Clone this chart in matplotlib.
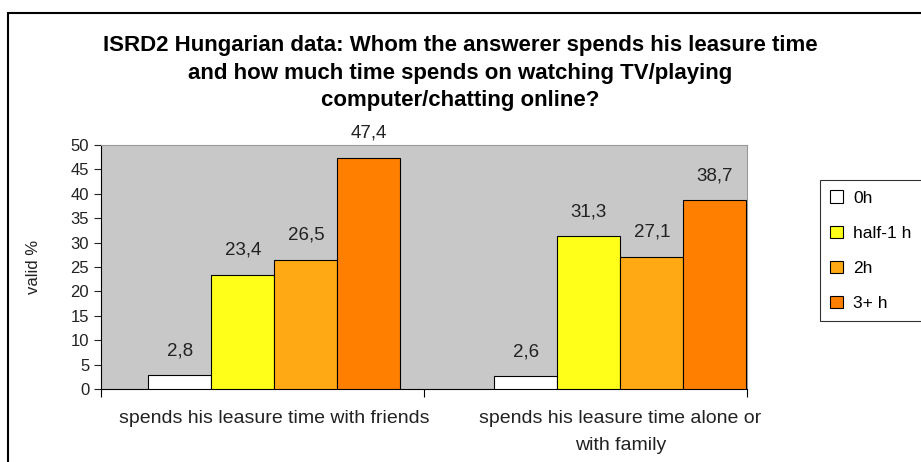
import numpy as np
import matplotlib
matplotlib.use("Agg")
import matplotlib.pyplot as plt
from matplotlib.patches import Rectangle

plt.rcParams['font.family'] = ['Liberation Sans', 'DejaVu Sans']

### data
groups = ["spends his leasure time with friends",
          "spends his leasure time alone or\nwith family"]
series = ["0h", "half-1 h", "2h", "3+ h"]
values = [[2.8, 2.6],
          [23.4, 31.3],
          [26.5, 27.1],
          [47.4, 38.7]]
labels = [["2,8", "2,6"],
          ["23,4", "31,3"],
          ["26,5", "27,1"],
          ["47,4", "38,7"]]
colors = ["#ffffff", "#ffff1a", "#ffaa14", "#ff8000"]

### figure
fig = plt.figure(figsize=(9.21, 4.62), dpi=100)
ax = fig.add_axes([101/921, 1 - 389/462, 646/921, 244/462])
ax.set_facecolor("#c8c8c8")

centers = [0.537, 1.608]
w = 0.195
for i, s in enumerate(series):
    xs = [c + (i - 1.5) * w for c in centers]
    ax.bar(xs, values[i], width=w, color=colors[i], edgecolor="black",
           linewidth=0.8, label=s, zorder=3)
    for x, v, t in zip(xs, values[i], labels[i]):
        ax.text(x, v + 4.1, t, ha="center", va="baseline", fontsize=13.5,
                color="#222222", clip_on=False)

ax.set_xlim(0, 2)
ax.set_ylim(0, 50)
ax.set_yticks(np.arange(0, 51, 5))
ax.tick_params(axis="y", labelsize=12, length=5, colors="#222222")
ax.set_xticks([0, 1, 2])
ax.set_xticklabels([])
ax.tick_params(axis="x", length=6)
for c, g in zip(centers, groups):
    ax.text(c, -4.3, g, ha="center", va="top", fontsize=14,
            linespacing=1.75, color="#222222")

for side in ["top", "right"]:
    ax.spines[side].set_color("#999999")
ax.spines["left"].set_color("black")
ax.spines["bottom"].set_color("black")

ax.set_ylabel("valid %", fontsize=12, labelpad=21, color="#222222")

fig.text(0.5, 1 - 73/462, "ISRD2 Hungarian data: Whom the answerer spends his leasure time\n"
         "and how much time spends on watching TV/playing\ncomputer/chatting online?",
         ha="center", va="center", fontsize=16, fontweight="bold",
         linespacing=1.42)

leg = fig.legend(loc="upper left", bbox_to_anchor=(820/921, 1 - 180/462),
                 frameon=True, fancybox=False, edgecolor="black",
                 fontsize=12.5, handlelength=0.7, handleheight=0.7,
                 labelspacing=1.15, borderpad=0.6, handletextpad=0.6,
                 borderaxespad=0)
leg.get_frame().set_linewidth(0.8)

# outer border
fig.patches.append(Rectangle((8/921, -0.1), 1.2, 1 - 13/462 + 0.1,
                             transform=fig.transFigure, fill=False,
                             edgecolor="black", linewidth=1.5))

fig.savefig("out.png", dpi=100)
